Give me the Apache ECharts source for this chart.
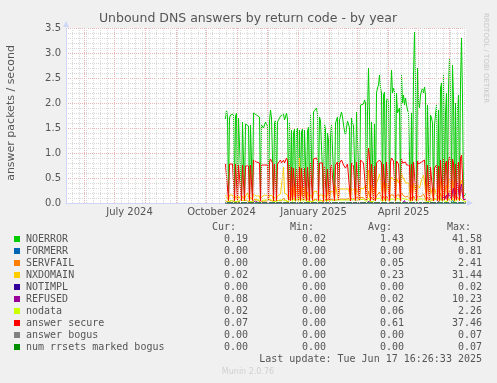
<!DOCTYPE html>
<html><head><meta charset="utf-8">
<script src="https://cdn.jsdelivr.net/npm/echarts@6/dist/echarts.min.js"></script>
<style>html,body{margin:0;padding:0;background:#F0F0F0;}#c{width:497px;height:383px;}</style>
</head><body><div id="c"></div>
<script>
const chartTitle = 'Unbound DNS answers by return code - by year';
const yAxisTitle = 'answer packets / second';
const sideText = 'RRDTOOL / TOBI OETIKER';
const lastUpdate = 'Last update: Tue Jun 17 16:26:33 2025';
const muninText = 'Munin 2.0.76';

const xLabelNames = ['July 2024', 'October 2024', 'January 2025', 'April 2025'];
const xLabelDates = ['2024-07-16', '2024-10-16', '2025-01-16', '2025-04-16'];
const monthStarts = ['2024-06-01','2024-07-01','2024-08-01','2024-09-01','2024-10-01','2024-11-01','2024-12-01',
  '2025-01-01','2025-02-01','2025-03-01','2025-04-01','2025-05-01','2025-06-01'];
const firstDataDay = '2024-10-20';

const seriesNames = ['NOERROR','FORMERR','SERVFAIL','NXDOMAIN','NOTIMPL','REFUSED','nodata','answer secure','answer bogus','num rrsets marked bogus'];
const seriesColors = ['#00CC00','#0066B3','#FF8000','#FFCC00','#330099','#990099','#CCFF00','#FF0000','#808080','#008F00'];
const curVals = ['0.19','0.00','0.00','0.02','0.00','0.08','0.02','0.07','0.00','0.00'];
const minVals = ['0.02','0.00','0.00','0.00','0.00','0.00','0.00','0.00','0.00','0.00'];
const avgVals = ['1.43','0.00','0.05','0.23','0.00','0.02','0.06','0.61','0.00','0.00'];
const maxVals = ['41.58','0.81','2.41','31.44','0.02','10.23','2.26','37.46','0.07','0.07'];

// daily values from 2024-10-20 to 2025-06-17
const noerror = [
1.68,1.86,1.72,0.10,1.70,1.76,1.80,1.72,1.78,0.08,
1.74,1.80,0.10,1.70,1.72,1.66,0.08,1.62,1.64,0.10,
1.58,1.56,1.60,1.54,0.08,1.56,1.52,0.10,1.80,1.84,
1.78,1.76,1.74,1.80,1.72,0.08,1.56,1.60,1.50,1.52,
1.62,1.58,1.54,0.10,1.64,1.86,1.70,1.66,0.08,1.60,
1.66,0.10,1.62,1.64,1.66,1.74,1.70,1.72,1.78,1.66,
1.72,1.80,1.68,0.10,1.60,0.10,1.46,0.12,1.40,1.48,
0.10,1.44,1.50,0.10,1.46,0.12,1.42,1.48,0.10,1.46,
1.50,0.12,1.44,1.52,0.10,1.76,1.80,0.10,1.82,1.86,
1.80,1.90,1.78,0.12,1.72,1.64,1.60,1.66,0.10,1.58,
1.46,0.10,1.40,1.26,0.10,1.30,1.58,1.62,1.56,0.10,
1.60,1.64,1.72,0.12,1.66,1.70,1.82,1.72,1.56,1.44,
1.36,1.40,1.64,1.58,1.50,0.08,1.70,1.60,1.54,1.50,
0.10,1.82,1.78,1.86,0.12,1.96,2.00,1.94,1.98,2.06,
2.00,0.10,1.80,2.70,1.76,0.10,1.62,1.60,0.12,1.58,
0.10,2.20,2.30,2.36,2.56,2.30,2.20,0.12,2.16,2.22,
0.10,2.04,2.10,2.00,0.10,2.10,2.66,2.20,2.30,2.24,
0.12,2.20,1.80,1.76,1.90,0.10,2.56,2.00,2.16,1.96,
2.10,1.96,1.86,1.80,1.76,0.10,1.80,0.12,2.56,3.42,
2.40,0.10,2.70,2.00,1.90,2.16,2.24,2.30,2.20,2.32,
2.16,0.10,1.96,2.00,0.12,1.76,1.70,1.60,0.10,1.56,
1.76,1.96,0.10,1.86,0.12,2.30,2.40,0.10,2.56,0.12,
1.80,2.20,0.10,2.30,2.90,2.20,0.12,2.76,2.10,0.10,
2.00,0.12,1.90,2.16,0.10,2.40,3.30,2.10,0.10,0.08,0.19];

const answerSecure = [
0.78,0.80,0.76,0.05,0.78,0.76,0.80,0.78,0.76,0.04,
0.78,0.80,0.05,0.76,0.78,0.74,0.04,0.76,0.78,0.05,
0.74,0.76,0.78,0.74,0.04,0.76,0.74,0.05,0.86,0.84,
0.88,0.82,0.80,0.84,0.80,0.04,0.76,0.78,0.74,0.76,
0.80,0.78,0.76,0.05,0.82,0.88,0.84,0.80,0.04,0.78,
0.80,0.05,0.78,0.80,0.82,0.86,0.80,0.84,0.86,0.80,
0.82,0.90,0.84,0.06,0.78,0.05,0.72,0.06,0.70,0.72,
0.05,0.70,0.74,0.06,0.72,0.05,0.70,0.72,0.06,0.70,
0.74,0.05,0.72,0.76,0.05,0.80,0.84,0.05,0.88,0.92,
0.86,0.90,0.84,0.05,0.80,0.78,0.76,0.80,0.04,0.74,
0.70,0.05,0.68,0.66,0.04,0.68,0.76,0.78,0.74,0.05,
0.76,0.78,0.82,0.05,0.80,0.82,0.86,0.82,0.76,0.72,
0.70,0.72,0.78,0.76,0.74,0.04,0.80,0.76,0.74,0.72,
0.05,0.82,0.80,0.84,0.05,0.86,0.84,0.82,0.80,0.84,
0.82,0.05,0.80,1.10,0.90,0.05,0.78,0.76,0.05,0.74,
0.04,0.80,0.82,0.84,0.86,0.82,0.80,0.05,0.78,0.80,
0.04,0.82,0.86,0.80,0.05,0.82,0.90,0.86,0.84,0.82,
0.05,0.84,0.80,0.78,0.82,0.05,0.88,0.80,0.78,0.80,
0.82,0.76,0.78,0.80,0.76,0.05,0.78,0.05,0.82,0.86,
0.80,0.04,0.84,0.78,0.76,0.80,0.82,0.84,0.80,0.86,
0.82,0.05,0.76,0.74,0.05,0.72,0.70,0.68,0.04,0.70,
0.74,0.76,0.05,0.74,0.05,0.86,0.90,0.05,0.88,0.06,
0.78,0.84,0.05,0.82,0.92,0.84,0.06,0.88,0.80,0.05,
0.78,0.06,0.76,0.82,0.05,0.90,0.96,1.00,0.10,0.06,0.07];

const nxdomain = [
0.16,0.18,0.14,0.05,0.16,0.20,0.14,0.16,0.18,0.05,
0.14,0.16,0.06,0.14,0.18,0.16,0.05,0.14,0.12,0.06,
0.14,0.16,0.20,0.14,0.05,0.12,0.14,0.06,0.18,0.22,
0.16,0.14,0.16,0.18,0.14,0.05,0.12,0.14,0.12,0.16,
0.14,0.12,0.14,0.06,0.16,0.20,0.16,0.14,0.05,0.12,
0.14,0.06,0.14,0.16,0.14,0.18,0.16,0.20,0.72,0.20,
0.16,0.18,0.16,0.06,0.14,0.06,0.30,0.08,0.36,0.26,
0.06,0.40,0.30,0.08,0.90,0.10,0.34,0.28,0.08,0.32,
0.24,0.06,0.22,0.20,0.06,0.18,0.20,0.06,0.22,0.18,
0.20,0.24,0.18,0.06,0.16,0.18,0.14,0.16,0.06,0.18,
0.22,0.08,0.20,0.30,0.06,0.24,0.20,0.26,0.22,0.06,
0.36,0.24,0.26,0.06,0.28,0.30,0.32,0.28,0.26,0.30,
0.28,0.26,0.30,0.28,0.26,0.08,0.30,0.32,0.28,0.26,
0.08,0.30,0.28,0.32,0.10,0.30,0.34,0.30,0.28,0.32,
0.36,0.10,0.34,0.66,0.40,0.10,0.36,0.34,0.10,0.32,
0.10,0.40,0.44,0.50,0.58,0.48,0.44,0.12,0.42,0.46,
0.12,0.40,0.44,0.42,0.12,0.46,0.52,0.48,0.50,0.44,
0.12,0.50,0.46,0.40,0.48,0.12,0.60,0.52,0.56,0.46,
0.40,0.38,0.36,0.40,0.38,0.10,0.36,0.10,0.40,0.44,
0.38,0.10,0.36,0.32,0.30,0.34,0.46,0.50,0.56,0.60,
0.52,0.10,0.40,0.36,0.10,0.30,0.28,0.26,0.08,0.30,
0.34,0.32,0.08,0.36,0.10,0.44,0.38,0.10,0.48,0.12,
0.30,0.36,0.10,0.42,0.50,0.40,0.12,0.46,0.34,0.10,
0.30,0.12,0.28,0.36,0.10,0.40,0.46,0.50,0.12,0.06,0.02];

const servfail = [
0.04,0.05,0.04,0.02,0.04,0.06,0.05,0.04,0.05,0.02,
0.04,0.05,0.02,0.04,0.06,0.05,0.02,0.04,0.05,0.02,
0.04,0.05,0.06,0.04,0.02,0.05,0.04,0.02,0.06,0.08,
0.05,0.04,0.06,0.05,0.04,0.02,0.04,0.05,0.04,0.06,
0.05,0.04,0.05,0.02,0.06,0.08,0.05,0.04,0.02,0.04,
0.05,0.02,0.04,0.05,0.06,0.05,0.04,0.06,0.10,0.06,
0.05,0.06,0.05,0.02,0.05,0.03,0.20,0.04,0.28,0.16,
0.04,0.30,0.22,0.04,0.36,0.05,0.26,0.18,0.04,0.24,
0.14,0.04,0.10,0.08,0.03,0.06,0.05,0.02,0.06,0.08,
0.06,0.05,0.06,0.02,0.05,0.06,0.04,0.05,0.02,0.06,
0.08,0.03,0.06,0.10,0.03,0.08,0.06,0.07,0.06,0.03,
0.10,0.06,0.08,0.03,0.07,0.08,0.10,0.08,0.06,0.08,
0.07,0.08,0.10,0.09,0.08,0.04,0.10,0.12,0.09,0.08,
0.04,0.10,0.12,0.11,0.04,0.12,0.14,0.12,0.10,0.12,
0.14,0.05,0.12,0.24,0.16,0.05,0.12,0.10,0.05,0.10,
0.05,0.14,0.16,0.18,0.22,0.16,0.14,0.05,0.14,0.16,
0.05,0.14,0.16,0.15,0.05,0.16,0.20,0.18,0.16,0.14,
0.05,0.16,0.14,0.12,0.16,0.05,0.22,0.16,0.18,0.14,
0.12,0.10,0.12,0.14,0.12,0.04,0.12,0.04,0.14,0.18,
0.12,0.04,0.14,0.12,0.10,0.12,0.14,0.16,0.18,0.20,
0.16,0.04,0.12,0.10,0.04,0.10,0.10,0.08,0.04,0.10,
0.12,0.12,0.04,0.14,0.05,0.20,0.16,0.05,0.24,0.06,
0.14,0.18,0.05,0.16,0.26,0.18,0.06,0.22,0.14,0.05,
0.14,0.06,0.12,0.16,0.05,0.20,0.28,0.30,0.08,0.04,0.00];

const nodata = [
0.05,0.06,0.05,0.03,0.05,0.06,0.05,0.05,0.06,0.03,
0.05,0.06,0.03,0.05,0.06,0.05,0.03,0.05,0.05,0.03,
0.05,0.06,0.05,0.05,0.03,0.05,0.05,0.03,0.06,0.07,
0.06,0.05,0.06,0.06,0.05,0.03,0.05,0.06,0.05,0.06,
0.05,0.05,0.06,0.03,0.06,0.07,0.06,0.05,0.03,0.05,
0.06,0.03,0.05,0.06,0.06,0.06,0.05,0.06,0.08,0.06,
0.05,0.06,0.05,0.03,0.05,0.03,0.08,0.03,0.10,0.07,
0.03,0.10,0.08,0.03,0.12,0.03,0.09,0.07,0.03,0.08,
0.06,0.03,0.06,0.06,0.03,0.06,0.06,0.03,0.07,0.07,
0.06,0.07,0.06,0.03,0.06,0.05,0.05,0.06,0.03,0.05,
0.06,0.03,0.05,0.06,0.03,0.05,0.06,0.06,0.05,0.03,
0.06,0.06,0.07,0.03,0.06,0.06,0.07,0.06,0.06,0.05,
0.06,0.06,0.07,0.06,0.06,0.03,0.07,0.06,0.06,0.06,
0.03,0.07,0.06,0.07,0.03,0.07,0.08,0.07,0.07,0.08,
0.07,0.03,0.07,0.10,0.08,0.03,0.07,0.06,0.03,0.06,
0.03,0.08,0.08,0.09,0.10,0.08,0.08,0.03,0.07,0.08,
0.03,0.08,0.09,0.08,0.03,0.08,0.10,0.09,0.08,0.08,
0.03,0.09,0.08,0.07,0.08,0.03,0.10,0.08,0.09,0.08,
0.08,0.07,0.07,0.08,0.07,0.03,0.07,0.03,0.08,0.09,
0.08,0.03,0.08,0.07,0.07,0.08,0.08,0.09,0.08,0.10,
0.08,0.03,0.07,0.07,0.03,0.06,0.06,0.06,0.03,0.06,
0.07,0.07,0.03,0.08,0.03,0.09,0.08,0.03,0.10,0.04,
0.07,0.08,0.03,0.08,0.10,0.08,0.04,0.09,0.07,0.03,
0.07,0.04,0.06,0.08,0.03,0.08,0.10,0.10,0.04,0.03,0.02];

const refused = [
0,0,0,0,0,0,0,0,0,0, 0,0,0,0,0,0,0,0,0,0, 0,0,0,0,0,0,0,0,0,0,
0.04,0,0,0,0,0,0,0,0,0, 0,0,0,0,0,0,0,0,0,0, 0,0,0,0,0,0,0,0,0,0,
0,0,0,0,0,0,0,0,0,0, 0,0,0,0,0,0,0,0,0,0, 0,0,0,0,0,0,0,0,0,0,
0,0,0,0,0,0,0,0,0,0, 0,0,0,0,0,0,0,0,0,0, 0,0,0,0,0,0,0,0,0,0,
0,0,0,0,0,0,0,0,0,0, 0,0,0,0,0,0,0,0,0,0,
0,0,0,0,0.04,0,0,0,0,0, 0,0,0,0,0,0,0,0,0,0, 0,0,0,0,0,0,0,0,0,0,
0,0,0,0,0,0,0,0,0,0.05, 0,0,0,0,0,0,0,0,0,0, 0,0,0,0,0,0,0,0,0,0,
0,0,0,0,0.06,0,0,0,0,0,
0,0,0,0,0.04,0.10,0.08,0.04,0.14,0.06,
0.10,0.16,0.06,0.20,0.24,0.18,0.08,0.22,0.30,0.10,
0.20,0.36,0.42,0.24,0.10,0.30,0.38,0.16,0.06,0.04,0.08];

const formerr = [
0,0,0,0,0,0,0,0,0,0, 0,0,0,0,0,0,0,0,0,0, 0,0,0,0,0,0,0,0,0,0,
0,0,0,0,0,0,0,0,0,0, 0,0,0,0,0,0,0,0,0,0, 0,0,0,0,0,0,0,0,0,0,
0,0,0,0,0,0,0,0,0,0, 0,0,0,0,0,0,0,0,0,0, 0,0,0,0,0,0,0,0,0,0,
0,0,0,0,0,0,0,0,0,0, 0,0,0,0,0,0,0,0,0,0, 0,0,0,0,0,0,0,0,0,0,
0,0,0,0,0,0,0,0,0,0, 0,0,0,0,0,0,0,0,0,0, 0,0,0,0,0,0,0,0,0,0,
0,0,0,0,0,0,0,0,0,0, 0,0,0,0,0,0,0,0,0,0, 0,0,0,0,0,0,0,0,0,0,
0,0,0,0,0,0,0,0,0,0, 0,0,0,0,0,0,0,0,0,0, 0,0,0,0,0,0,0,0,0,0,
0,0,0,0,0,0,0,0,0,0,
0,0,0,0,0,0,0.03,0.05,0.02,0.04,
0,0,0,0,0,0,0,0,0,0,0];

// flat series: only first and last day
const flatDays = [0, 240];
const notimpl = [0, 0];
const answerBogus = [0, 0];
const rrsetsBogus = [0, 0];

const DAY = 86400000;
const xMin = Date.UTC(2024, 4, 13, 12);
const xMax = Date.UTC(2025, 5, 17, 12);
const day0 = Date.parse(firstDataDay);

function pairs(values, days) {
  return values.map((v, i) => [day0 + (days ? days[i] : i) * DAY, v]);
}
const seriesData = [
  pairs(noerror), pairs(formerr), pairs(servfail), pairs(nxdomain), pairs(notimpl, flatDays),
  pairs(refused), pairs(nodata), pairs(answerSecure), pairs(answerBogus, flatDays), pairs(rrsetsBogus, flatDays)
];

const labelTimes = xLabelDates.map(d => Date.parse(d));
const weekLines = [];
for (let t = Date.UTC(2024, 4, 20); t < xMax; t += 7 * DAY) weekLines.push(t);
const monthLines = monthStarts.map(d => Date.parse(d));

const FONT = 'DejaVu Sans';
const MONO = 'DejaVu Sans Mono';
const TXT = '#555555';

const series = [{
  type: 'line', data: [], z: 1, silent: true,
  markLine: {
    silent: true, symbol: ['none', 'none'], animation: false, label: { show: false },
    data: weekLines.map(t => ({ xAxis: t, lineStyle: { color: '#D8D8D8', width: 1, type: [1, 1] } }))
      .concat(monthLines.map(t => ({ xAxis: t, lineStyle: { color: '#ECB4B4', width: 1, type: [1, 1] } })))
  }
}];
seriesNames.forEach((n, k) => {
  series.push({
    name: n, type: 'line', data: seriesData[k], z: 2, showSymbol: false, symbol: 'none',
    silent: true, animation: false, color: seriesColors[k],
    lineStyle: { width: 1, color: seriesColors[k] }, emphasis: { disabled: true }
  });
});

const graphic = [
  { type: 'text', style: { text: chartTitle, x: 248, y: 19, textAlign: 'center', textVerticalAlign: 'middle', font: '12.5px ' + FONT, fill: TXT } },
  { type: 'text', rotation: Math.PI / 2, x: 11, y: 113, style: { text: yAxisTitle, x: 0, y: 0, textAlign: 'center', textVerticalAlign: 'middle', font: '11px ' + FONT, fill: TXT } },
  { type: 'text', rotation: -Math.PI / 2, x: 486, y: 13, style: { text: sideText, x: 0, y: 0, textAlign: 'left', textVerticalAlign: 'middle', font: '7px ' + FONT, fill: '#C8C8C8' } },
  { type: 'text', style: { text: 'Cur:', x: 212, y: 227, textVerticalAlign: 'middle', font: '10px ' + MONO, fill: TXT } },
  { type: 'text', style: { text: 'Min:', x: 290, y: 227, textVerticalAlign: 'middle', font: '10px ' + MONO, fill: TXT } },
  { type: 'text', style: { text: 'Avg:', x: 368, y: 227, textVerticalAlign: 'middle', font: '10px ' + MONO, fill: TXT } },
  { type: 'text', style: { text: 'Max:', x: 447, y: 227, textVerticalAlign: 'middle', font: '10px ' + MONO, fill: TXT } },
  { type: 'text', style: { text: lastUpdate, x: 482, y: 359, textAlign: 'right', textVerticalAlign: 'middle', font: '10px ' + MONO, fill: TXT } },
  { type: 'text', style: { text: muninText, x: 248, y: 372, textAlign: 'center', textVerticalAlign: 'middle', font: '8px ' + FONT, fill: '#D0D0D0' } }
];
const colX = [248, 326, 404, 482];
const stats = [curVals, minVals, avgVals, maxVals];
seriesNames.forEach((n, k) => {
  const y = 239 + 12 * k;
  graphic.push({ type: 'rect', shape: { x: 14, y: y - 3, width: 6, height: 6 }, style: { fill: seriesColors[k] } });
  graphic.push({ type: 'text', style: { text: n, x: 26, y: y, textVerticalAlign: 'middle', font: '10px ' + MONO, fill: TXT } });
  stats.forEach((arr, c) => {
    graphic.push({ type: 'text', style: { text: arr[k], x: colX[c], y: y, textAlign: 'right', textVerticalAlign: 'middle', font: '10px ' + MONO, fill: TXT } });
  });
});

const chart = echarts.init(document.getElementById('c'), null, { renderer: 'canvas' });
chart.setOption({
  backgroundColor: '#F0F0F0',
  animation: false,
  grid: { left: 66, top: 28, width: 400, height: 175, show: true, backgroundColor: '#FFFFFF', borderWidth: 0 },
  xAxis: {
    type: 'value', min: xMin, max: xMax,
    axisLine: { show: true, lineStyle: { color: '#CFD6F8', width: 1 }, symbol: ['none', 'triangle'], symbolSize: [6, 6], symbolOffset: [0, 4] },
    axisTick: { show: false },
    splitLine: { show: false },
    axisLabel: {
      customValues: labelTimes,
      formatter: v => xLabelNames[labelTimes.indexOf(v)] || '',
      fontFamily: FONT, fontSize: 10, color: TXT, margin: 4
    }
  },
  yAxis: {
    type: 'value', min: 0, max: 3.5, interval: 0.5,
    axisLine: { show: true, lineStyle: { color: '#CFD6F8', width: 1 }, symbol: ['none', 'triangle'], symbolSize: [6, 6], symbolOffset: [0, 4] },
    axisTick: { show: false },
    axisLabel: { formatter: v => v.toFixed(1), fontFamily: FONT, fontSize: 10, color: TXT, margin: 5 },
    splitLine: { show: true, lineStyle: { color: '#ECB4B4', width: 1, type: [1, 1] } },
    minorTick: { show: false, splitNumber: 5 },
    minorSplitLine: { show: true, lineStyle: { color: '#D8D8D8', width: 1, type: [1, 1] } }
  },
  series: series,
  graphic: graphic
});
</script></body></html>
